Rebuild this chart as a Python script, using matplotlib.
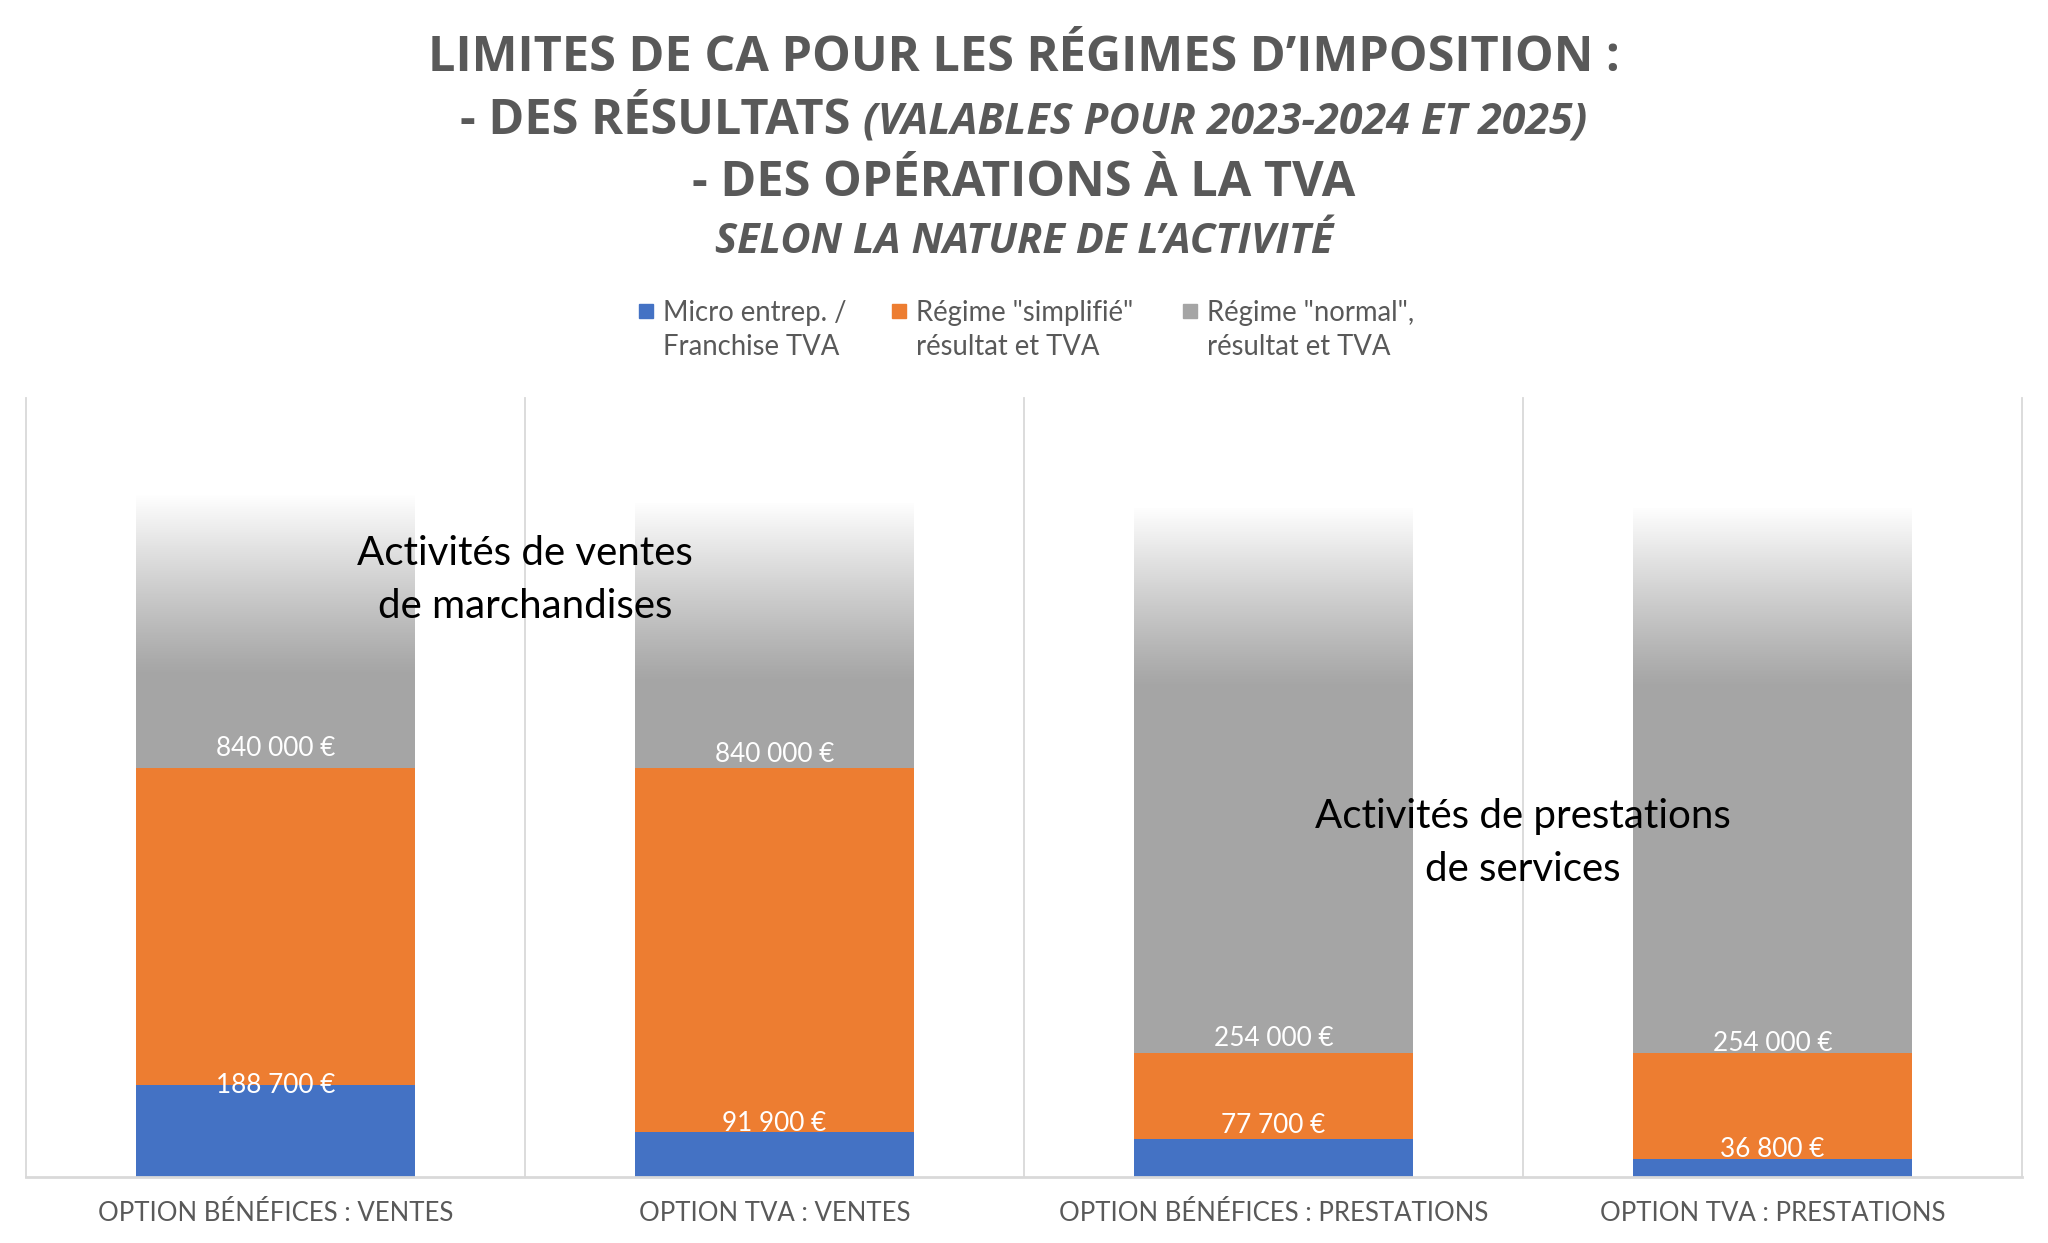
import numpy as np
import matplotlib.pyplot as plt
from matplotlib.patches import Rectangle

# data
categories = ["OPTION BÉNÉFICES : VENTES", "OPTION TVA : VENTES",
              "OPTION BÉNÉFICES : PRESTATIONS", "OPTION TVA : PRESTATIONS"]
micro = [188700, 91900, 77700, 36800]          # limite micro / franchise
simplifie = [840000, 840000, 254000, 254000]   # limite régime simplifié
normal_top = [1400000, 1384000, 1374000, 1374000]  # haut (estompé) du régime normal
series_names = ['Micro entrep. /\nFranchise TVA',
                'Régime "simplifié"\nrésultat et TVA',
                'Régime "normal",\nrésultat et TVA']
micro_labels = ["188 700 €", "91 900 €", "77 700 €", "36 800 €"]
simpl_labels = ["840 000 €", "840 000 €", "254 000 €", "254 000 €"]

blue, orange, gray = "#4472C4", "#ED7D31", "#A5A5A5"
txt_gray = "#595959"
body_font = "Lato"
title_font = "Open Sans"

fig = plt.figure(figsize=(20.48, 12.43), dpi=100)
ax = fig.add_axes([0.0127, 0.0531, 0.9746, 0.6267])

x = np.arange(len(categories))
w = 0.56
micro = np.array(micro)
simplifie = np.array(simplifie)
normal_top = np.array(normal_top)

ax.bar(x, micro, w, color=blue, zorder=2)
ax.bar(x, simplifie - micro, w, bottom=micro, color=orange, zorder=2)
ax.bar(x, normal_top - simplifie, w, bottom=simplifie, color=gray, zorder=2)

# fade the top of the gray bars to white
fade = 370000
ramp = np.linspace(0, 1, 256) ** 1.1
for xi, top in zip(x, normal_top):
    img = np.ones((256, 1, 4))
    img[:, 0, 3] = ramp
    ax.imshow(img, extent=[xi - w / 2, xi + w / 2, top - fade, top],
              origin="lower", aspect="auto", zorder=3, interpolation="bilinear")

# value labels
off_micro = [0, 9, 14, 10]
off_simpl = [20, 14, 15, 10]
for xi, v, lab, o in zip(x, micro, micro_labels, off_micro):
    ax.annotate(lab, (xi, v), xytext=(0, o * 0.72), textcoords="offset points",
                ha="center", va="center", color="white", fontsize=18.8,
                family=body_font, zorder=4)
for xi, v, lab, o in zip(x, simplifie, simpl_labels, off_simpl):
    ax.annotate(lab, (xi, v), xytext=(0, o * 0.72), textcoords="offset points",
                ha="center", va="center", color="white", fontsize=18.8,
                family=body_font, zorder=4)

# group captions
ax.text(0.5, 1226000, "Activités de ventes\nde marchandises", ha="center", va="center",
        fontsize=29, family=body_font, color="black", linespacing=1.52, zorder=5)
ax.text(2.5, 686000, "Activités de prestations\nde services", ha="center", va="center",
        fontsize=29, family=body_font, color="black", linespacing=1.52, zorder=5)

ax.set_xlim(-0.5, 3.5)
ax.set_ylim(0, 1600000)
for b in np.arange(-0.5, 4, 1):
    ax.axvline(b, color="#D9D9D9", lw=1.3, zorder=1, clip_on=False)
for s in ["left", "right", "top"]:
    ax.spines[s].set_visible(False)
ax.spines["bottom"].set_color("#D9D9D9")
ax.spines["bottom"].set_linewidth(2)
ax.set_yticks([])
ax.set_xticks(x)
ax.set_xticklabels(categories, fontsize=18.5, family=body_font, color=txt_gray)
ax.tick_params(axis="x", length=0, pad=17)

# legend (square aligned on the first line like in Excel)
leg_x = [0.312, 0.4355, 0.5776]
for lx, col, name in zip(leg_x, [blue, orange, gray], series_names):
    fig.add_artist(Rectangle((lx, 0.744), 0.0068, 0.0113, transform=fig.transFigure,
                             color=col))
    fig.text(lx + 0.0117, 0.759, name, ha="left", va="top", fontsize=19.8,
             family=body_font, color=txt_gray, linespacing=1.42)

# title
tkw = dict(color=txt_gray, family=title_font, weight="bold", ha="center", va="center")
fig.text(0.5, 0.953, "LIMITES DE CA POUR LES RÉGIMES D’IMPOSITION :", fontsize=35, **tkw)
fig.text(0.5, 0.852, "- DES OPÉRATIONS À LA TVA", fontsize=35, **tkw)
fig.text(0.5, 0.805, "SELON LA NATURE DE L’ACTIVITÉ", fontsize=30, style="italic", **tkw)

r = fig.canvas.get_renderer()
ta = fig.text(0, 0.902, "- DES RÉSULTATS ", fontsize=35, color=txt_gray,
              family=title_font, weight="bold", ha="left", va="center")
tb = fig.text(0, 0.902, "(VALABLES POUR 2023-2024 ET 2025)", fontsize=31, style="italic",
              color=txt_gray, family=title_font, weight="bold", ha="left", va="center")
wa = ta.get_window_extent(r).width
wb = tb.get_window_extent(r).width
W = fig.get_figwidth() * fig.dpi
x0 = (W - wa - wb) / 2 / W
ta.set_x(x0)
tb.set_x(x0 + wa / W)

fig.savefig("out.png", dpi=100)
